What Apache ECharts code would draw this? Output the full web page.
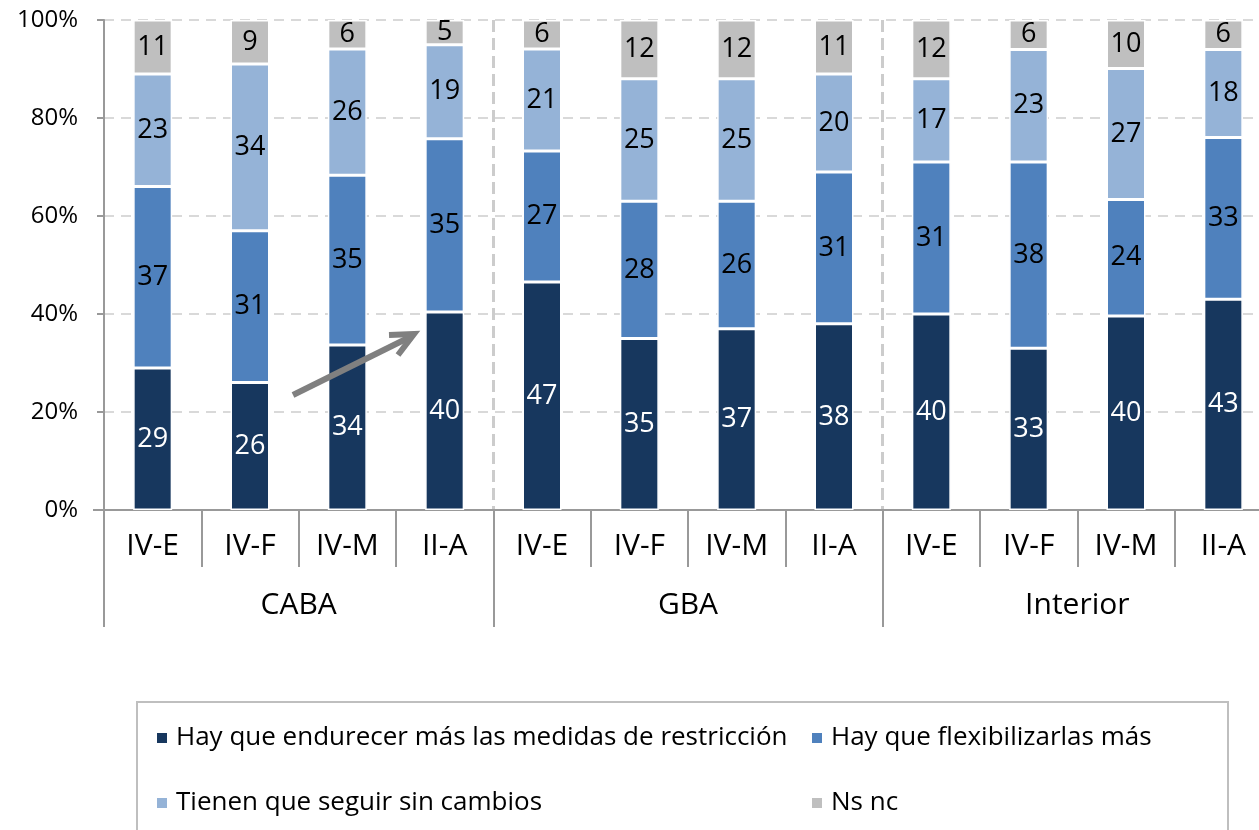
<!DOCTYPE html>
<html lang="es">
<head>
    <meta charset="UTF-8">
    <title>Medidas de restricción</title>
    <style>
        html, body { margin: 0; padding: 0; background: #fff; }
        #main { width: 1259px; height: 830px; }
    </style>
</head>
<body>
<div id="main"></div>

<script src="https://cdn.jsdelivr.net/npm/echarts@6/dist/echarts.min.js"></script>
<script>
    // datos por medición (valores tal como aparecen en las barras)
    var categorias = ['IV-E', 'IV-F', 'IV-M', 'II-A', 'IV-E', 'IV-F', 'IV-M', 'II-A', 'IV-E', 'IV-F', 'IV-M', 'II-A'];
    var grupos = ['CABA', 'GBA', 'Interior'];
    var endurecer = [29, 26, 34, 40, 47, 35, 37, 38, 40, 33, 40, 43];
    var flexibilizar = [37, 31, 35, 35, 27, 28, 26, 31, 31, 38, 24, 33];
    var sinCambios = [23, 34, 26, 19, 21, 25, 25, 20, 17, 23, 27, 18];
    var nsnc = [11, 9, 6, 5, 6, 12, 12, 11, 12, 6, 10, 6];
    var nombres = ['Hay que endurecer más las medidas de restricción', 'Hay que flexibilizarlas más',
        'Tienen que seguir sin cambios', 'Ns nc'];
    var colores = ['#17375E', '#4F81BD', '#95B3D7', '#BFBFBF'];

    var fuente = '"Open Sans", "Noto Sans", sans-serif';
    var gris = '#999999';

    // las barras se apilan al 100% (cada columna normalizada por su total)
    var totales = categorias.map(function (c, i) {
        return endurecer[i] + flexibilizar[i] + sinCambios[i] + nsnc[i];
    });

    function serie(nombre, valores, color, colorTexto) {
        return {
            name: nombre,
            type: 'bar',
            stack: 'total',
            barWidth: 39,
            xAxisIndex: 0,
            data: valores.map(function (v, i) {
                return { value: v / totales[i] * 100, raw: v };
            }),
            itemStyle: { color: color, borderColor: '#fff', borderWidth: 1.5 },
            label: {
                show: true,
                position: 'inside',
                color: colorTexto,
                fontSize: 27,
                fontFamily: fuente,
                formatter: function (p) { return p.data.raw; }
            }
        };
    }

    var myChart = echarts.init(document.getElementById('main'));

    var option = {
        animation: false,
        textStyle: { fontFamily: fuente },
        // el gráfico original está recortado a la derecha: la grilla sobrepasa el lienzo
        grid: { left: 104, width: 1168, top: 20, bottom: 320, containLabel: false, outerBoundsMode: 'none' },
        xAxis: [
            {
                type: 'category',
                data: categorias,
                position: 'bottom',
                axisLine: { show: true, lineStyle: { color: gris, width: 2 } },
                axisTick: { show: true, interval: 0, length: 57, lineStyle: { color: gris, width: 2 } },
                axisLabel: { interval: 0, color: '#000', fontSize: 30, fontFamily: fuente, lineHeight: 32, margin: 20 },
                splitLine: { show: false }
            },
            {
                type: 'category',
                data: grupos,
                position: 'bottom',
                axisLine: { show: false },
                axisTick: { show: true, interval: 0, length: 117, lineStyle: { color: gris, width: 2 } },
                axisLabel: { interval: 0, color: '#000', fontSize: 30, fontFamily: fuente, lineHeight: 32, margin: 79 },
                splitLine: {
                    show: true, interval: 0, showMinLine: false, showMaxLine: false,
                    lineStyle: { color: '#CCCCCC', width: 3, type: [12, 6] }
                }
            }
        ],
        yAxis: {
            type: 'value',
            min: 0,
            max: 100,
            interval: 20,
            axisLine: { show: true, lineStyle: { color: gris, width: 2 } },
            axisTick: { show: true, length: 7, lineStyle: { color: gris, width: 2 } },
            axisLabel: { formatter: '{value}%', color: '#000', fontSize: 24, fontFamily: fuente, margin: 26 },
            splitLine: { show: true, lineStyle: { color: '#D9D9D9', width: 2, type: [10, 7] } }
        },
        legend: [
            {
                data: [nombres[0], nombres[2]],
                orient: 'vertical',
                left: 150,
                top: 718,
                icon: 'rect',
                itemWidth: 12,
                itemHeight: 12,
                itemGap: 35,
                selectedMode: false,
                textStyle: { color: '#000', fontSize: 26, fontFamily: fuente, lineHeight: 30, padding: [0, 0, 0, 3] }
            },
            {
                data: [nombres[1], nombres[3]],
                orient: 'vertical',
                left: 805,
                top: 718,
                icon: 'rect',
                itemWidth: 12,
                itemHeight: 12,
                itemGap: 35,
                selectedMode: false,
                textStyle: { color: '#000', fontSize: 26, fontFamily: fuente, lineHeight: 30, padding: [0, 0, 0, 3] }
            }
        ],
        graphic: [
            // marco de la leyenda
            {
                type: 'rect',
                shape: { x: 137, y: 702, width: 1091, height: 140 },
                style: { fill: 'none', stroke: '#BFBFBF', lineWidth: 2 },
                silent: true
            },
            // prolongación del eje x a la izquierda
            {
                type: 'line',
                shape: { x1: 93, y1: 510, x2: 104, y2: 510 },
                style: { stroke: gris, lineWidth: 2 },
                silent: true
            },
            // flecha de tendencia en CABA
            {
                type: 'line',
                shape: { x1: 293, y1: 395, x2: 410, y2: 337 },
                style: { stroke: '#808080', lineWidth: 6 },
                silent: true,
                z: 100
            },
            {
                type: 'polyline',
                shape: { points: [[389, 335], [414, 334], [398, 355]] },
                style: { stroke: '#808080', lineWidth: 6, fill: 'none', lineJoin: 'miter' },
                silent: true,
                z: 100
            }
        ],
        series: [
            serie(nombres[0], endurecer, colores[0], '#fff'),
            serie(nombres[1], flexibilizar, colores[1], '#000'),
            serie(nombres[2], sinCambios, colores[2], '#000'),
            serie(nombres[3], nsnc, colores[3], '#000')
        ]
    };

    myChart.setOption(option);
</script>
</body>
</html>
